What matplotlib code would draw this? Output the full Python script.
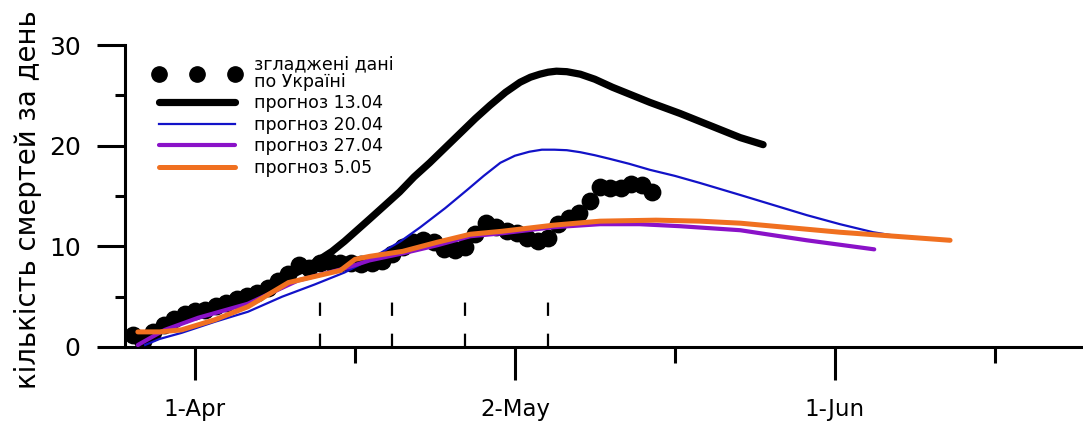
import matplotlib.pyplot as plt
from matplotlib.lines import Line2D

# days counted from 1 April
obs_days = list(range(-6, 45))
obs_deaths = [1.2, 0.6, 1.5, 2.2, 2.8, 3.3, 3.6, 3.7, 4.1, 4.4,
              4.8, 5.1, 5.4, 5.9, 6.6, 7.3, 8.1, 7.8, 8.3, 8.4,
              8.3, 8.3, 8.2, 8.3, 8.5, 9.2, 9.9, 10.4, 10.6, 10.4,
              9.7, 9.6, 9.9, 11.2, 12.3, 11.9, 11.5, 11.3, 10.8, 10.5,
              10.8, 12.2, 12.8, 13.3, 14.5, 15.9, 15.8, 15.8, 16.2, 16.1,
              15.4]

f1304_days = [-5.5, -5, -2, 1, 4, 7, 10, 12.0, 13.2, 14.4, 15.6, 16.8, 18.2,
              19.7, 21.1, 22.6, 24.0, 25.5, 27.0, 28.4, 29.9, 31.3, 32.3, 33.2,
              34.0, 34.8, 35.8, 37.1, 38.5, 40.2, 43.8, 46.7, 49.6, 52.5, 54.7]
f1304_vals = [0.4, 0.7, 2.5, 3.8, 4.8, 5.9, 7.5, 8.7, 9.5, 10.5, 11.6, 12.7, 14.0,
              15.4, 16.9, 18.3, 19.7, 21.2, 22.7, 24.0, 25.3, 26.3, 26.8, 27.1,
              27.3, 27.4, 27.35, 27.1, 26.6, 25.8, 24.3, 23.2, 22.0, 20.8, 20.1]

f2004_days = [-4.8, -3.4, -1.3, 1.9, 5.1, 8.4, 11.5, 14.4, 16.1, 17.8, 19.8,
              21.7, 24.1, 26.2, 27.8, 29.4, 30.8, 32.2, 33.4, 34.6, 35.8, 37.1,
              38.5, 39.9, 41.8, 43.8, 46.2, 48.6, 52.5, 55.7, 58.9, 62.1, 65.3,
              67.4, 69.5]
f2004_vals = [0.2, 0.8, 1.4, 2.5, 3.5, 5.0, 6.2, 7.4, 8.3, 9.3, 10.5,
              11.9, 13.8, 15.6, 17.0, 18.3, 19.0, 19.4, 19.6, 19.6, 19.55, 19.35,
              19.05, 18.7, 18.2, 17.6, 17.0, 16.3, 15.1, 14.1, 13.1, 12.2, 11.4,
              11.05, 10.8]

f2704_days = [-5.5, -4.3, -2.9, 0.3, 5.1, 9.9, 14.4, 16.8, 20.0, 23.3, 26.5,
              29.6, 34.5, 39.0, 42.8, 46.7, 52.5, 58.9, 65.4]
f2704_vals = [0.2, 0.9, 1.7, 2.9, 4.3, 6.6, 7.8, 8.6, 9.3, 10.1, 11.0,
              11.3, 11.9, 12.2, 12.2, 12.0, 11.6, 10.6, 9.7]

f0505_days = [-5.5, -3.4, -1.3, 1.9, 5.1, 9.0, 11.5, 14.0, 15.4, 16.8, 20.0,
              23.3, 26.5, 29.6, 34.5, 39.0, 44.4, 48.6, 52.5, 62.1, 72.7]
f0505_vals = [1.5, 1.5, 1.7, 2.7, 4.0, 6.4, 7.0, 7.6, 8.7, 9.0, 9.5,
              10.4, 11.2, 11.5, 12.1, 12.5, 12.6, 12.5, 12.3, 11.4, 10.6]

forecast_dates = ["13.04", "20.04", "27.04", "5.05"]
forecast_days = [12, 19, 26, 34]

tick_days = [0, 15.4, 30.8, 46.2, 61.6, 77.0]
tick_labels = ["1-Apr", "", "2-May", "", "1-Jun", ""]

fig = plt.figure(figsize=(10.83, 4.21), dpi=100)
ax = fig.add_axes([0.1154, 0.1758, 0.8846, 0.7173])

line_1304, = ax.plot(f1304_days, f1304_vals, color="black", lw=5.2,
                     solid_capstyle="round", solid_joinstyle="round", zorder=2)
ax.scatter(obs_days, obs_deaths, s=140, color="black", zorder=3)
line_2004, = ax.plot(f2004_days, f2004_vals, color="#1212c8", lw=1.6,
                     solid_joinstyle="round", zorder=4)
line_2704, = ax.plot(f2704_days, f2704_vals, color="#8a12c8", lw=3.0,
                     solid_capstyle="round", solid_joinstyle="round", zorder=5)
line_0505, = ax.plot(f0505_days, f0505_vals, color="#f07020", lw=3.6,
                     solid_capstyle="round", solid_joinstyle="round", zorder=6)

# forecast dates marked on the axis
ax.vlines(forecast_days, 0, 4.5, color="black", lw=1.6,
          linestyles=(0, (6, 8)), zorder=1)

ax.set_xlim(-6.74, 85.5)
ax.set_ylim(0, 30)

major_x = [d for d, l in zip(tick_days, tick_labels) if l]
minor_x = [d for d, l in zip(tick_days, tick_labels) if not l]
ax.set_xticks(major_x)
ax.set_xticklabels([l for l in tick_labels if l])
ax.set_xticks(minor_x, minor=True)
ax.set_yticks([0, 10, 20, 30])
ax.set_yticks([5, 15, 25], minor=True)

ax.tick_params(axis="x", which="major", length=24, width=2.2, pad=13,
               labelsize=16.5)
ax.tick_params(axis="x", which="minor", length=11.5, width=2.2)
ax.tick_params(axis="y", which="major", length=20, width=2.2, pad=12,
               labelsize=18)
ax.tick_params(axis="y", which="minor", length=7.5, width=2.2)

for side in ["top", "right"]:
    ax.spines[side].set_visible(False)
for side in ["left", "bottom"]:
    ax.spines[side].set_linewidth(2.2)

ax.set_ylabel("кількість смертей за день", fontsize=19.8)
ax.yaxis.set_label_coords(-0.087, 0.487)

dots_handle = Line2D([], [], linestyle="none", marker="o", markersize=11,
                     color="black")
leg = ax.legend(
    [dots_handle, line_1304, line_2004, line_2704, line_0505],
    ["згладжені дані\nпо Україні"] + ["прогноз " + d for d in forecast_dates],
    loc="upper left", bbox_to_anchor=(0.03, 0.965), frameon=False,
    fontsize=12.5, numpoints=3, handlelength=5.0, handletextpad=0.75,
    labelspacing=0.2, borderpad=0, borderaxespad=0,
)
for t in leg.get_texts():
    t.set_linespacing(0.95)

fig.savefig("out.png", dpi=100)
